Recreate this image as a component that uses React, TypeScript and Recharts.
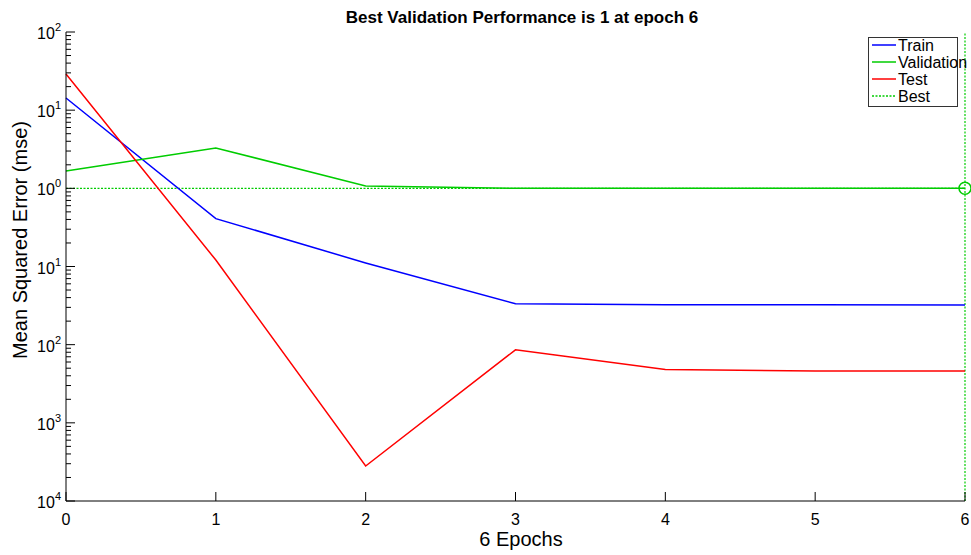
import React from 'react';
import { LineChart, Line, XAxis, YAxis, ReferenceLine, ReferenceDot } from 'recharts';

// ---- data ----
const epochs = [0, 1, 2, 3, 4, 5, 6];
const trainPerf = [14.3, 0.41, 0.111, 0.0333, 0.0325, 0.0323, 0.0322];
const validationPerf = [1.67, 3.29, 1.07, 1.0, 1.0, 1.0, 1.0];
const testPerf = [29, 0.121, 0.00028, 0.0086, 0.0048, 0.0046, 0.0046];
const bestEpoch = 6;
const bestPerf = 1;

const xTicks = [0, 1, 2, 3, 4, 5, 6];
const yMajorTicks = [1e-4, 1e-3, 1e-2, 1e-1, 1, 10, 100];
const yTickExponents = ['4', '3', '2', '1', '0', '1', '2'];
const minorMultipliers = [2, 3, 4, 5, 6, 7, 8, 9];

const seriesNames = ['Train', 'Validation', 'Test', 'Best'];
const seriesColors = ['#0000ff', '#00cc00', '#ff0000', '#00cc00'];
const seriesDashed = [false, false, false, true];

const titleText = 'Best Validation Performance is 1 at epoch 6';
const xLabelText = '6 Epochs';
const yLabelText = 'Mean Squared Error  (mse)';

const FONT = '"Liberation Sans", Arial, Helvetica, sans-serif';

const data = epochs.map((e, i) => ({
  epoch: e,
  train: trainPerf[i],
  validation: validationPerf[i],
  test: testPerf[i],
}));

const yMinorTicks: number[] = [];
yMajorTicks.slice(0, -1).forEach((d) => minorMultipliers.forEach((m) => yMinorTicks.push(d * m)));
const yAllTicks = [...yMajorTicks, ...yMinorTicks].sort((a, b) => a - b);

const majorIndex = (v: number) =>
  yMajorTicks.findIndex((t) => Math.abs(Math.log10(t) - Math.log10(v)) < 1e-6);

const YTick = (props: any) => {
  const { x, y, payload } = props;
  const idx = majorIndex(payload.value);
  const major = idx >= 0;
  return (
    <g>
      <line x1={x} x2={x + (major ? 9 : 5)} y1={y} y2={y} stroke="#000" strokeWidth={1} />
      {major && (
        <text x={x - 5} y={y + 7} textAnchor="end" fontSize={16} fontFamily={FONT} fill="#000">
          10
          <tspan dy={-8} fontSize={11}>
            {yTickExponents[idx]}
          </tspan>
        </text>
      )}
    </g>
  );
};

const XTick = (props: any) => {
  const { x, y, payload } = props;
  return (
    <g>
      <line x1={x} x2={x} y1={y} y2={y - 9} stroke="#000" strokeWidth={1} />
      <text x={x} y={y + 24} textAnchor="middle" fontSize={16} fontFamily={FONT} fill="#000">
        {payload.value}
      </text>
    </g>
  );
};

export default function App() {
  return (
    <div style={{ position: 'absolute', left: 0, top: 0, width: 971, height: 555, background: '#fff' }}>
      <LineChart
        width={971}
        height={555}
        data={data}
        margin={{ top: 32, right: 6, bottom: 0, left: 0 }}
      >
        <XAxis
          dataKey="epoch"
          type="number"
          domain={[0, 6]}
          ticks={xTicks}
          interval={0}
          tick={<XTick />}
          tickLine={false}
          tickSize={0}
          tickMargin={0}
          height={54}
          axisLine={{ stroke: '#000', strokeWidth: 1 }}
        />
        <YAxis
          type="number"
          scale="log"
          domain={[1e-4, 100]}
          allowDataOverflow
          ticks={yAllTicks}
          interval={0}
          tick={<YTick />}
          tickLine={false}
          tickSize={0}
          tickMargin={0}
          width={66}
          axisLine={{ stroke: '#000', strokeWidth: 1 }}
        />
        <ReferenceLine y={bestPerf} stroke={seriesColors[3]} strokeWidth={1.2} strokeDasharray="2 1.5" />
        <ReferenceLine x={bestEpoch} stroke={seriesColors[3]} strokeWidth={1.2} strokeDasharray="2 1.5" />
        <Line type="linear" dataKey="train" stroke={seriesColors[0]} strokeWidth={1.5} dot={false} isAnimationActive={false} />
        <Line type="linear" dataKey="validation" stroke={seriesColors[1]} strokeWidth={1.5} dot={false} isAnimationActive={false} />
        <Line type="linear" dataKey="test" stroke={seriesColors[2]} strokeWidth={1.5} dot={false} isAnimationActive={false} />
        <ReferenceDot x={bestEpoch} y={bestPerf} r={6} fill="none" stroke={seriesColors[3]} strokeWidth={1.5} />
      </LineChart>
      <svg
        width={971}
        height={555}
        style={{ position: 'absolute', left: 0, top: 0, pointerEvents: 'none' }}
      >
        <text x={522} y={23} textAnchor="middle" fontSize={17} fontWeight="bold" fontFamily={FONT} fill="#000">
          {titleText}
        </text>
        <text x={521} y={546} textAnchor="middle" fontSize={20} fontFamily={FONT} fill="#000">
          {xLabelText}
        </text>
        <text
          transform="rotate(-90)"
          x={-240}
          y={27}
          textAnchor="middle"
          fontSize={20}
          fontFamily={FONT}
          fill="#000"
        >
          {yLabelText}
        </text>
        <g>
          <rect x={868.5} y={37.5} width={89} height={69} fill="#fff" stroke="#333" strokeWidth={1} />
          {seriesNames.map((name, i) => (
            <g key={name}>
              <line
                x1={872}
                x2={896}
                y1={45 + i * 17}
                y2={45 + i * 17}
                stroke={seriesColors[i]}
                strokeWidth={1.5}
                strokeDasharray={seriesDashed[i] ? '2 1.5' : undefined}
              />
              <text x={898} y={51 + i * 17} fontSize={16} fontFamily={FONT} fill="#000">
                {name}
              </text>
            </g>
          ))}
        </g>
      </svg>
    </div>
  );
}
